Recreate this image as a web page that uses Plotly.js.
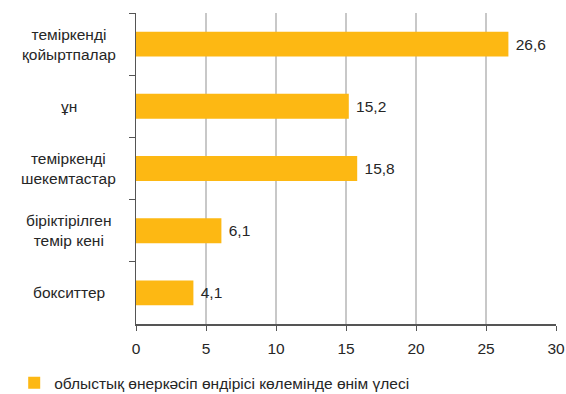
<!DOCTYPE html>
<html><head><meta charset="utf-8">
<script src="https://cdn.plot.ly/plotly-3.0.1.min.js"></script>
<style>html,body{margin:0;padding:0;background:#fff}</style>
</head><body>
<div id="chart" style="width:566px;height:394px"></div>
<script>
const categories = ["теміркенді қойыртпалар", "ұн", "теміркенді шекемтастар", "біріктірілген темір кені", "бокситтер"];
const tickLabels = ["теміркенді<br>қойыртпалар", "ұн", "теміркенді<br>шекемтастар", "біріктірілген<br>темір кені", "бокситтер"];
const values = [26.6, 15.2, 15.8, 6.1, 4.1];
const seriesName = "облыстық өнеркәсіп өндірісі көлемінде өнім үлесі";
const xTicks = [0, 5, 10, 15, 20, 25, 30];

const font = "Liberation Sans, Arial, sans-serif";
const fs = 15.5;
const col = "#262626";
const data = [{
  type: "bar", orientation: "h",
  y: categories, x: values, name: seriesName,
  marker: {color: "#FDB813"},
  texttemplate: "\u00a0%{x:.1f}", textposition: "outside",
  textfont: {family: font, size: fs, color: col},
  cliponaxis: false
}];
const annotations = categories.map((c, i) => ({
  xref: "paper", yref: "y", x: -0.16, y: c, text: tickLabels[i],
  showarrow: false, xanchor: "center", yanchor: "middle", align: "center",
  font: {family: font, size: fs, color: col}
}));
const layout = {
  width: 566, height: 394,
  margin: {l: 136, r: 10, t: 13, b: 70, autoexpand: false},
  separators: ", ",
  bargap: 0.6,
  showlegend: true,
  font: {family: font, size: fs, color: col},
  xaxis: {range: [0, 30], tickvals: xTicks, showgrid: true, gridcolor: "#c8c8c8", gridwidth: 2,
          zeroline: false, showline: true, linecolor: "#555", linewidth: 1.5,
          ticks: "outside", ticklen: 5, tickcolor: "#555", ticklabelstandoff: 5,
          tickfont: {size: fs, color: col}},
  yaxis: {type: "category", autorange: "reversed", showticklabels: false, showline: true,
          linecolor: "#555", linewidth: 1.5, ticks: "outside", tickson: "boundaries",
          ticklen: 6, tickcolor: "#555", showgrid: false},
  legend: {orientation: "h", xref: "paper", yref: "paper", x: -0.29, y: -0.19, yanchor: "middle",
           itemwidth: 30, font: {family: font, size: fs, color: col}},
  annotations: annotations,
  plot_bgcolor: "#fff", paper_bgcolor: "#fff"
};
Plotly.newPlot("chart", data, layout, {displayModeBar: false, staticPlot: true});
</script>
</body></html>
